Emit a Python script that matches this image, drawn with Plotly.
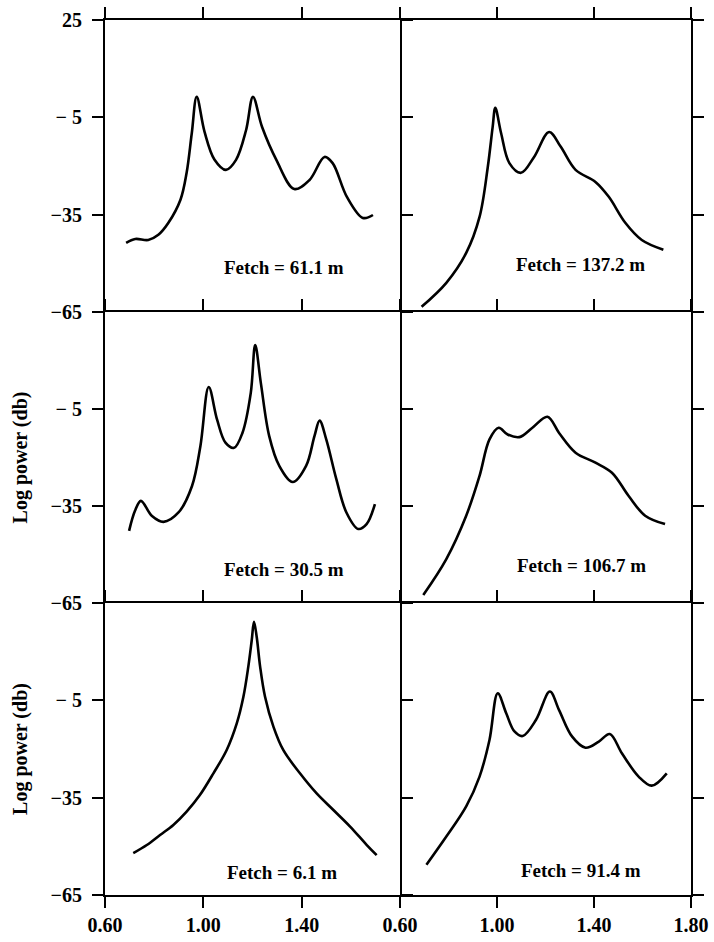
import plotly.graph_objects as go

# ---------------- data (frequency, log power in dB) ----------------
f_611 = [0.686, 0.723, 0.776, 0.817, 0.858, 0.907, 0.932, 0.953, 0.973, 1.005, 1.045, 1.092,
         1.133, 1.174, 1.202, 1.239, 1.297, 1.370, 1.432, 1.493, 1.526, 1.584, 1.649, 1.690]
p_611 = [-43.7, -42.5, -42.8, -41.2, -37.5, -30.4, -22.1, -9.9, 1.3, -9.5, -18.0, -21.2,
         -18.1, -8.9, 1.3, -8.0, -18.1, -27.1, -24.3, -17.2, -19.1, -29.5, -36.0, -35.1]

f_1372 = [0.689, 0.791, 0.873, 0.928, 0.962, 0.982, 0.993, 1.017, 1.051, 1.099, 1.153, 1.215,
          1.263, 1.324, 1.406, 1.461, 1.529, 1.597, 1.686]
p_1372 = [-63.4, -56.0, -46.8, -35.7, -20.3, -8.0, -2.1, -9.9, -19.1, -22.1, -17.2, -9.5,
          -14.1, -21.2, -24.9, -29.5, -37.5, -42.8, -45.8]

f_305 = [0.698, 0.722, 0.746, 0.790, 0.838, 0.899, 0.954, 0.988, 1.022, 1.056, 1.090, 1.125,
         1.159, 1.193, 1.211, 1.234, 1.268, 1.309, 1.364, 1.418, 1.452, 1.473, 1.500, 1.541,
         1.582, 1.630, 1.664, 1.698]
p_305 = [-42.7, -36.5, -33.4, -38.0, -39.9, -37.0, -28.8, -16.5, 1.8, -8.3, -15.4, -17.0,
         -12.4, 0.0, 14.8, 3.0, -13.4, -22.6, -27.6, -22.6, -13.4, -8.6, -14.4, -26.7,
         -37.0, -42.1, -40.6, -34.4]

f_1067 = [0.696, 0.791, 0.873, 0.928, 0.969, 1.007, 1.044, 1.092, 1.146, 1.208, 1.256, 1.324,
          1.406, 1.474, 1.543, 1.611, 1.693]
p_1067 = [-62.5, -51.4, -38.0, -25.7, -14.4, -10.8, -12.9, -13.7, -10.8, -7.4, -12.4, -18.5,
          -21.6, -24.7, -31.9, -38.0, -40.6]

f_61 = [0.715, 0.770, 0.824, 0.878, 0.932, 0.986, 1.041, 1.095, 1.136, 1.163, 1.183, 1.197,
        1.206, 1.217, 1.231, 1.251, 1.285, 1.325, 1.393, 1.461, 1.529, 1.597, 1.665, 1.705]
p_61 = [-52.1, -49.6, -46.5, -43.4, -39.3, -34.2, -27.5, -20.3, -12.1, -3.9, 5.4, 13.6,
        19.2, 14.6, 5.4, -3.9, -13.1, -20.3, -27.5, -33.7, -38.8, -43.9, -49.6, -52.7]

f_914 = [0.709, 0.791, 0.873, 0.928, 0.969, 1.003, 1.038, 1.072, 1.106, 1.161, 1.218, 1.256,
         1.310, 1.365, 1.420, 1.465, 1.515, 1.584, 1.638, 1.700]
p_914 = [-55.7, -47.0, -37.7, -28.5, -17.2, -2.8, -9.0, -14.6, -16.0, -11.0, -2.3, -8.0,
         -16.2, -19.6, -17.7, -15.4, -21.3, -28.5, -31.3, -27.5]

labels = ["Fetch = 61.1 m", "Fetch = 137.2 m", "Fetch = 30.5 m",
          "Fetch = 106.7 m", "Fetch = 6.1 m", "Fetch = 91.4 m"]
label_x = [1.33, 1.345, 1.33, 1.35, 1.32, 1.345]
label_y = [-51.4, -50.5, -54.5, -53.5, -58.2, -57.6]

x_ticks = [0.6, 1.0, 1.4, 1.8]
x_text_left = ["0.60", "1.00", "1.40", ""]
x_text_right = ["0.60", "1.00", "1.40", "1.80"]
y_ticks = [-65, -35, -5, 25]
y_text_top = ["\u221265", "\u221235", "\u2212 5", "25"]
y_text_other = ["\u221265", "\u221235", "\u2212 5", ""]

series = [(f_611, p_611), (f_1372, p_1372), (f_305, p_305),
          (f_1067, p_1067), (f_61, p_61), (f_914, p_914)]

# ---------------- layout geometry ----------------
W, H = 714, 942
xl, xm, xr = 105, 400, 691
yb = [20, 312, 603, 895]  # pixel rows of panel borders (top->bottom)
xdom = [[xl / W, xm / W], [xm / W, xr / W]]
ydom = [[1 - yb[r + 1] / H, 1 - yb[r] / H] for r in range(3)]

FONT = "Liberation Serif, Times New Roman, serif"
TICKFONT = dict(family=FONT, size=20, weight="bold", color="black")
fig = go.Figure()
layout = dict(width=W, height=H, margin=dict(l=0, r=0, t=0, b=0, autoexpand=False),
              plot_bgcolor="white", paper_bgcolor="white", showlegend=False,
              font=dict(family=FONT, color="black"))
annotations = []

for i, (fx, py) in enumerate(series):
    n = i + 1
    row, col = i // 2, i % 2
    xa = "x" if n == 1 else f"x{n}"
    ya = "y" if n == 1 else f"y{n}"
    fig.add_trace(go.Scatter(x=fx, y=py, mode="lines", xaxis=xa, yaxis=ya,
                             line=dict(color="black", width=2.6, shape="spline", smoothing=1.0),
                             hoverinfo="skip"))
    common = dict(showline=True, linecolor="black", linewidth=2, ticks="outside",
                  ticklen=11, tickwidth=2, tickcolor="black", showgrid=False,
                  zeroline=False, automargin=False)
    xcfg = dict(common, domain=xdom[col], anchor=ya, range=[0.6, 1.8],
                tickmode="array", tickvals=x_ticks, tickfont=TICKFONT)
    if row < 2:
        xcfg.update(side="top", mirror=False, showticklabels=False)
    else:
        xcfg.update(side="bottom", mirror="ticks", showticklabels=True,
                    ticktext=x_text_left if col == 0 else x_text_right)
    ycfg = dict(common, domain=ydom[row], anchor=xa, range=[-65, 25],
                tickmode="array", tickvals=y_ticks, tickfont=TICKFONT)
    if col == 0:
        ycfg.update(side="left", mirror="ticks", showticklabels=True, ticklabelstandoff=6,
                    ticktext=y_text_top if row == 0 else y_text_other)
        if row > 0:
            ycfg.update(title=dict(text="Log power (db)", standoff=18,
                                   font=dict(family=FONT, size=20, weight="bold", color="black")))
    else:
        ycfg.update(side="right", mirror=False, showticklabels=False)
    layout["xaxis" if n == 1 else f"xaxis{n}"] = xcfg
    layout["yaxis" if n == 1 else f"yaxis{n}"] = ycfg
    annotations.append(dict(text=labels[i], x=label_x[i], y=label_y[i], xref=xa, yref=ya,
                            showarrow=False, xanchor="center", yanchor="middle",
                            font=dict(family=FONT, size=19, weight="bold", color="black")))

layout["annotations"] = annotations
fig.update_layout(**layout)
fig.write_html("out.html")
